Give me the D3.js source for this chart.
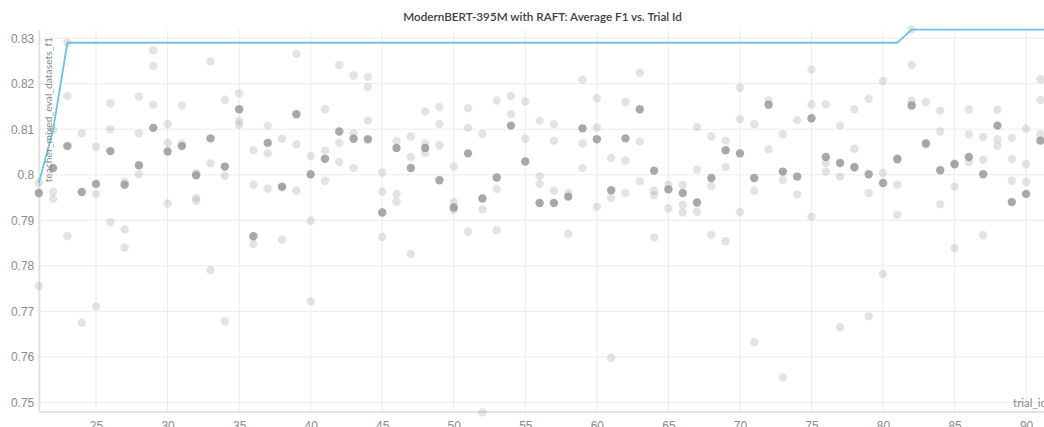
<!DOCTYPE html>
<html>
<head>
<meta charset="utf-8">
<script src="https://cdn.jsdelivr.net/npm/d3@7"></script>
<style>
  html, body { margin: 0; padding: 0; background: #fff; overflow: hidden; }
  svg { display: block; font-family: Lato, "Noto Sans", sans-serif; }
</style>
</head>
<body>
<svg id="chart" width="1044" height="427"></svg>
<script>
// ---- data ----
const trialIds = [21,22,23,24,25,26,27,28,29,30,31,32,33,34,35,36,37,38,39,40,
  41,42,43,44,45,46,47,48,49,50,51,52,53,54,55,56,57,58,59,60,
  61,62,63,64,65,66,67,68,69,70,71,72,73,74,75,76,77,78,79,80,
  81,82,83,84,85,86,87,88,89,90,91];

// highlighted (darker) run per trial
const darkF1 = [0.7960,0.8015,0.8063,0.7962,0.7980,0.8052,0.7978,0.8021,0.8103,0.8051,
  0.8063,0.7999,0.8080,0.8018,0.8144,0.7865,0.8070,0.7974,0.8133,0.8001,
  0.8035,0.8095,0.8079,0.8078,0.7917,0.8059,0.8015,0.8059,0.7988,0.7928,
  0.8047,0.7948,0.7994,0.8108,0.8029,0.7938,0.7938,0.7952,0.8102,0.8078,
  0.7966,0.8080,0.8144,0.8009,0.7968,0.7960,0.7939,0.7993,0.8054,0.8047,
  0.7993,0.8154,0.8007,0.7996,0.8124,0.8039,0.8026,0.8017,0.8001,0.7982,
  0.8034,0.8152,0.8069,0.8010,0.8023,0.8039,0.8001,0.8108,0.7940,0.7958,0.8075];

// other runs per trial (light)
const lightF1 = [
  [0.7982,0.7756],[0.8099,0.7963,0.7947],[0.8290,0.8173,0.7865],[0.8091,0.7675],
  [0.8061,0.7958,0.7711],[0.8157,0.8100,0.7896],[0.7984,0.7880,0.7840],[0.8172,0.8091,0.8001],
  [0.8273,0.8239,0.8154],[0.8111,0.8070,0.7937],[0.8152,0.8068],[0.8004,0.7949,0.7943],
  [0.8249,0.8025,0.7791],[0.8165,0.7998,0.7678],[0.8179,0.8118,0.8110],[0.8054,0.7978,0.7848],
  [0.8108,0.8047,0.7970],[0.8079,0.7972,0.7858],[0.8266,0.8067,0.7965],[0.8041,0.7899,0.7722],
  [0.8144,0.8053,0.7987],[0.8241,0.8070,0.8028],[0.8218,0.8091,0.8015],[0.8215,0.8193,0.8119],
  [0.8005,0.7963,0.7864],[0.8074,0.7958,0.7941],[0.8084,0.8039,0.7826],[0.8139,0.8068,0.8048],
  [0.8149,0.8111,0.8065],[0.8018,0.7940,0.7923],[0.8146,0.8103,0.7875],[0.8090,0.7924,0.7478],
  [0.8163,0.7969,0.7878],[0.8173,0.8133],[0.8161,0.8079],[0.8119,0.7997,0.7980],
  [0.8111,0.8075,0.7965],[0.7960,0.7870],[0.8209,0.8069,0.8015],[0.8168,0.8104,0.7930],
  [0.8037,0.7949,0.7598],[0.8160,0.8031,0.7960],[0.8224,0.8073,0.7986],[0.7965,0.7955,0.7862],
  [0.7978,0.7926],[0.7978,0.7934,0.7917],[0.8105,0.8011,0.7919],[0.8084,0.7975,0.7868],
  [0.8075,0.8017,0.7854],[0.8191,0.8122,0.7918],[0.8111,0.7965,0.7632],[0.8163,0.8056],
  [0.8089,0.7989,0.7555],[0.8120,0.7957],[0.8231,0.8155,0.7908],[0.8155,0.8026,0.8007],
  [0.8108,0.7996,0.7665],[0.8144,0.8057,0.8015],[0.8167,0.7960,0.7689],[0.8206,0.8004,0.7782],
  [0.8037,0.7978,0.7912],[0.8319,0.8241,0.8162],[0.8160,0.8066],[0.8141,0.8095,0.7935],
  [0.8025,0.7974,0.7839],[0.8144,0.8089,0.8028],[0.8083,0.8033,0.7867],[0.8143,0.8078,0.8063],
  [0.8081,0.8035,0.7987],[0.8101,0.8023,0.7984],[0.8210,0.8164,0.8089]];

// best-so-far line
const bestTrial = [21, 22, 23, 81, 82, 91.25];
const bestF1 = [0.7982, 0.8099, 0.8290, 0.8290, 0.8319, 0.8319];

const xTicks = [25,30,35,40,45,50,55,60,65,70,75,80,85,90];
const yTicks = [0.75,0.76,0.77,0.78,0.79,0.80,0.81,0.82,0.83];

const title = "ModernBERT-395M with RAFT: Average F1 vs. Trial Id";
const yLabel = "teacher_mixed_eval_datasets_f1";
const xLabel = "trial_id";

// ---- layout ----
const svg = d3.select("#chart");
const padL = 38.8, padR = 1044, padT = 30, padB = 411.5;
const x = d3.scaleLinear().domain([21, 91.25]).range([padL, padR]);
const y = d3.scaleLinear().domain([0.748, 0.8318]).range([padB, padT]);

// grid
const grid = svg.append("g");
grid.selectAll("line.h").data(yTicks).join("line").attr("class", "h")
  .attr("x1", padL).attr("x2", padR)
  .attr("y1", d => y(d)).attr("y2", d => y(d))
  .attr("stroke", "#ececec").attr("stroke-width", 1);
grid.selectAll("line.v").data(xTicks).join("line").attr("class", "v")
  .attr("y1", padT).attr("y2", padB)
  .attr("x1", d => x(d)).attr("x2", d => x(d))
  .attr("stroke", "#ececec").attr("stroke-width", 1);

// axes
const yAxis = d3.axisLeft(y).tickValues(yTicks).tickSize(0).tickPadding(5)
  .tickFormat(d3.format("~r"));
const gy = svg.append("g").attr("transform", `translate(${padL},0)`).call(yAxis);
gy.select(".domain").attr("stroke", "#e2e2e2").attr("stroke-width", 2);
gy.selectAll("text").attr("fill", "#8a8a8a").style("font-size", "12px")
  .attr("x", -4.5);

const xAxis = d3.axisBottom(x).tickValues(xTicks).tickSize(0).tickPadding(10);
const gx = svg.append("g").attr("transform", `translate(0,${padB})`).call(xAxis);
gx.select(".domain").attr("stroke", "#e2e2e2").attr("stroke-width", 2);
gx.selectAll("text").attr("fill", "#8a8a8a").style("font-size", "12px");

// points
const lightPts = [];
trialIds.forEach((t, i) => lightF1[i].forEach(v => lightPts.push([t, v])));
const darkPts = trialIds.map((t, i) => [t, darkF1[i]]);

svg.append("g").selectAll("circle").data(lightPts).join("circle")
  .attr("cx", d => x(d[0])).attr("cy", d => y(d[1])).attr("r", 4.2)
  .attr("fill", "#999").attr("fill-opacity", 0.28);
svg.append("g").selectAll("circle").data(darkPts).join("circle")
  .attr("cx", d => x(d[0])).attr("cy", d => y(d[1])).attr("r", 4.2)
  .attr("fill", "#999").attr("fill-opacity", 0.85);

// best line
const line = d3.line().x((d, i) => x(bestTrial[i])).y(d => y(d));
svg.append("path").datum(bestF1).attr("d", line)
  .attr("fill", "none").attr("stroke", "#6cc4e2").attr("stroke-width", 1.8);

// labels
svg.append("text").attr("x", 542.5).attr("y", 20.5).attr("text-anchor", "middle")
  .attr("fill", "#3d3d3d").style("font-size", "11.7px").style("font-weight", 600)
  .text(title);
svg.append("text").attr("transform", "translate(51.5,37) rotate(-90)")
  .attr("text-anchor", "end").attr("fill", "#8a8a8a").style("font-size", "10.3px")
  .text(yLabel);
svg.append("text").attr("x", 1047).attr("y", 406.5).attr("text-anchor", "end")
  .attr("fill", "#8a8a8a").style("font-size", "11.5px").text(xLabel);
</script>
</body>
</html>
